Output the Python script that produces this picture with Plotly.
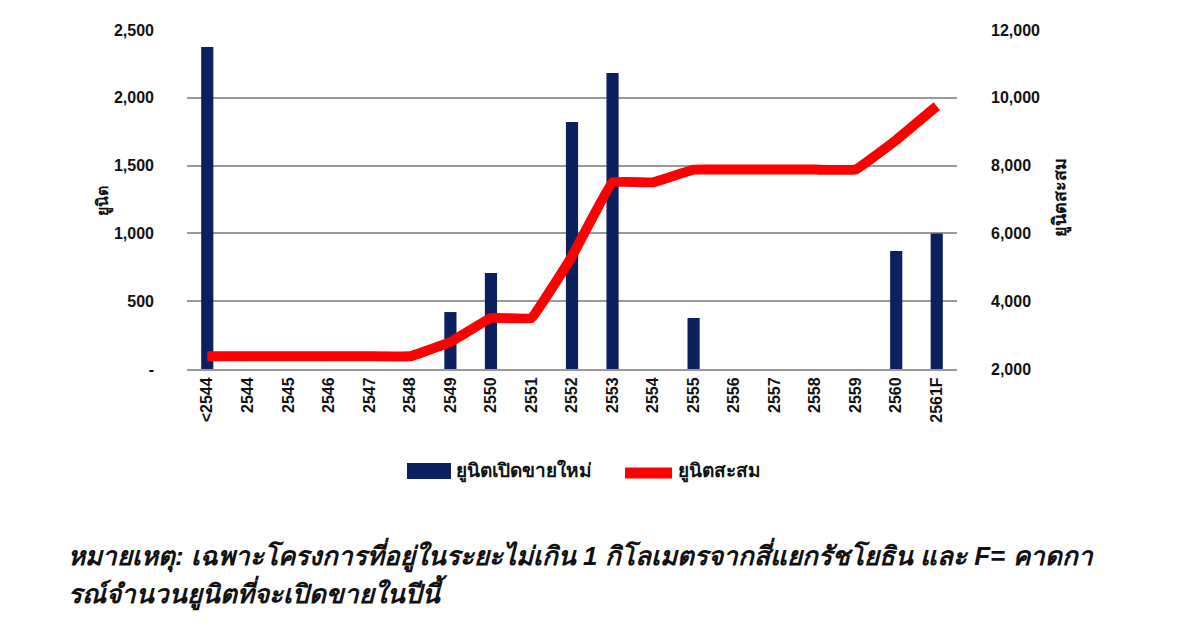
import plotly.graph_objects as go

categories = ["<2544", "2544", "2545", "2546", "2547", "2548", "2549", "2550", "2551",
              "2552", "2553", "2554", "2555", "2556", "2557", "2558", "2559", "2560", "2561F"]
new_units = [2375, 0, 0, 0, 0, 0, 420, 708, 0, 1821, 2183, 0, 376, 0, 0, 0, 0, 870, 1000]
cum_units = [2375, 2375, 2375, 2375, 2375, 2375, 2795, 3503, 3503, 5324, 7507, 7507,
             7883, 7883, 7883, 7883, 7883, 8753, 9753]
left_ticks = [0, 500, 1000, 1500, 2000, 2500]
left_labels = ["-", "500", "1,000", "1,500", "2,000", "2,500"]
right_ticks = [2000, 4000, 6000, 8000, 10000, 12000]
right_labels = ["2,000", "4,000", "6,000", "8,000", "10,000", "12,000"]

FONT = "Liberation Sans, Arial, sans-serif"
BAR_COLOR = "#0c1f5e"
LINE_COLOR = "#ff0000"

# plot area in screen pixels (page has 8px body offset)
L, R, T, B = 187, 957, 30, 369


def px(sx):
    return (sx - L) / (R - L)


def py(sy):
    return (B - sy) / (B - T)


fig = go.Figure()
fig.add_trace(go.Bar(x=categories, y=new_units, name="ยูนิตเปิดขายใหม่",
                     marker=dict(color=BAR_COLOR, line=dict(width=0)), width=0.3, yaxis="y"))
fig.add_trace(go.Scatter(x=categories, y=cum_units, name="ยูนิตสะสม", mode="lines",
                         line=dict(color=LINE_COLOR, width=10, shape="spline", smoothing=0.18),
                         yaxis="y2"))

fig.update_layout(
    width=1200, height=628,
    margin=dict(l=L - 8, r=1200 - (R - 8), t=T - 8, b=628 - (B - 8)),
    paper_bgcolor="white", plot_bgcolor="white",
    font=dict(family=FONT, color="#111111", size=13),
    showlegend=False,
    xaxis=dict(type="category", tickangle=-90, showgrid=False, showline=True,
               linecolor="#9a9a9a", linewidth=2, ticks="",
               ticktext=["<b>%s</b>" % c for c in categories], tickvals=categories,
               tickfont=dict(size=16, family=FONT, color="#111"),
               categoryorder="array", categoryarray=categories),
    yaxis=dict(range=[0, 2500], tickvals=left_ticks,
               ticktext=["<b>%s</b>" % t for t in left_labels],
               showgrid=True, gridcolor="#9a9a9a", gridwidth=2, zeroline=False,
               showline=False, ticks="", ticklabelstandoff=32,
               tickfont=dict(size=16, family=FONT, color="#111")),
    yaxis2=dict(range=[2000, 12000], tickvals=right_ticks,
                ticktext=["<b>%s</b>" % t for t in right_labels],
                overlaying="y", side="right", showgrid=False, zeroline=False,
                showline=False, ticks="", ticklabelstandoff=33,
                tickfont=dict(size=16, family=FONT, color="#111")),
)

# axis titles
fig.add_annotation(text="<b>ยูนิต</b>", x=px(92), y=py(201), xref="paper", yref="paper",
                   showarrow=False, textangle=-90, font=dict(size=16, family=FONT, color="#111"))
fig.add_annotation(text="<b>ยูนิตสะสม</b>", x=px(1074), y=py(198), xref="paper", yref="paper",
                   showarrow=False, textangle=-90, font=dict(size=18, family=FONT, color="#111"))

# legend (drawn manually to match the wide swatches)
fig.add_shape(type="rect", xref="paper", yref="paper",
              x0=px(407), x1=px(451), y0=py(479), y1=py(463),
              fillcolor=BAR_COLOR, line=dict(width=0))
fig.add_annotation(text="<b>ยูนิตเปิดขายใหม่</b>", x=px(454), y=py(471), xref="paper", yref="paper",
                   xanchor="left", yanchor="middle", showarrow=False,
                   font=dict(size=19, family=FONT, color="#111"))
fig.add_shape(type="line", xref="paper", yref="paper",
              x0=px(625), x1=px(672), y0=py(473), y1=py(473),
              line=dict(color=LINE_COLOR, width=11))
fig.add_annotation(text="<b>ยูนิตสะสม</b>", x=px(676), y=py(471), xref="paper", yref="paper",
                   xanchor="left", yanchor="middle", showarrow=False,
                   font=dict(size=19, family=FONT, color="#111"))

# footnote
fig.add_annotation(
    text="<b><i>หมายเหตุ: เฉพาะโครงการที่อยู่ในระยะไม่เกิน 1 กิโลเมตรจากสี่แยกรัชโยธิน และ F= คาดกา</i></b>",
    x=px(66), y=py(555), xref="paper", yref="paper",
    xanchor="left", yanchor="middle", showarrow=False, font=dict(size=26, family=FONT, color="#111"))
fig.add_annotation(
    text="<b><i>รณ์จำนวนยูนิตที่จะเปิดขายในปีนี้</i></b>",
    x=px(66), y=py(592), xref="paper", yref="paper",
    xanchor="left", yanchor="middle", showarrow=False, font=dict(size=26, family=FONT, color="#111"))

fig.write_html("out.html")
